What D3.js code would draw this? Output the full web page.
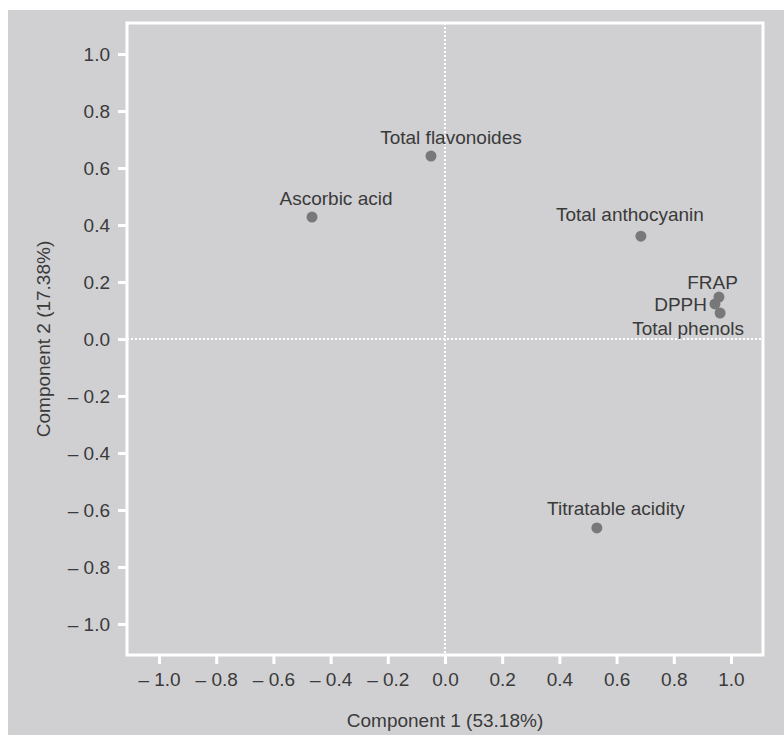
<!DOCTYPE html>
<html>
<head>
<meta charset="utf-8">
<script src="https://cdn.jsdelivr.net/npm/d3@7"></script>
<style>
  body { margin: 0; background: #fff; }
  svg { display: block; font-family: "Liberation Sans", Arial, sans-serif; }
</style>
</head>
<body>
<div id="canvas"></div>
<script>
const variables = ["Total flavonoides", "Ascorbic acid", "Total anthocyanin", "FRAP", "DPPH", "Total phenols", "Titratable acidity"];
const comp1 = [-0.049, -0.465, 0.685, 0.958, 0.944, 0.962, 0.531];
const comp2 = [0.642, 0.428, 0.361, 0.147, 0.123, 0.091, -0.663];
const tickValues = [-1.0, -0.8, -0.6, -0.4, -0.2, 0.0, 0.2, 0.4, 0.6, 0.8, 1.0];
// label placement relative to each point: [dx, dy, anchor]
const labelOffsets = [[20, -12, "middle"], [24, -12, "middle"], [-11, -15, "middle"], [19, -8, "end"], [-8, 7, "end"], [24, 22, "end"], [19, -13, "middle"]];

const width = 784;
const height = 735;
const margin = { top: 23, left: 127, bottom: 80, right: 21 };
const iwidth = width - margin.left - margin.right;
const iheight = height - margin.top - margin.bottom;

const svg = d3.select("#canvas").append("svg")
  .attr("width", width)
  .attr("height", height);

svg.append("rect")
  .attr("x", 8).attr("y", 10)
  .attr("width", width - 8).attr("height", height - 10)
  .attr("fill", "#d0d0d2");

const g = svg.append("g").attr("transform", `translate(${margin.left},${margin.top})`);

const x = d3.scaleLinear().domain([-1.112, 1.112]).range([0, iwidth]);
const y = d3.scaleLinear().domain([-1.109, 1.109]).range([iheight, 0]);

const fmt = (d) => (d < 0 ? "\u2013 " + d3.format(".1f")(-d) : d3.format(".1f")(d));

const xAxis = g.append("g")
  .attr("transform", `translate(0,${iheight})`)
  .call(d3.axisBottom(x).tickValues(tickValues).tickFormat(fmt).tickSize(9).tickPadding(9));
const yAxis = g.append("g")
  .call(d3.axisLeft(y).tickValues(tickValues).tickFormat(fmt).tickSize(9).tickPadding(8));

[xAxis, yAxis].forEach((a) => {
  a.select(".domain").remove();
  a.selectAll(".tick line").attr("stroke", "#fff").attr("stroke-width", 3);
  a.selectAll(".tick text").attr("fill", "#3a3a3a").style("font-size", "19px");
});

g.append("rect")
  .attr("width", iwidth).attr("height", iheight)
  .attr("fill", "none").attr("stroke", "#fff").attr("stroke-width", 3);

// dotted zero lines
g.append("line")
  .attr("x1", x(0)).attr("x2", x(0)).attr("y1", 0).attr("y2", iheight)
  .attr("stroke", "#fff").attr("stroke-width", 2).attr("stroke-dasharray", "2,2");
g.append("line")
  .attr("x1", 0).attr("x2", iwidth).attr("y1", y(0)).attr("y2", y(0))
  .attr("stroke", "#fff").attr("stroke-width", 2).attr("stroke-dasharray", "2,2");

const data = variables.map((name, i) => ({ name, c1: comp1[i], c2: comp2[i], off: labelOffsets[i] }));

g.selectAll("circle").data(data).enter().append("circle")
  .attr("cx", (d) => x(d.c1))
  .attr("cy", (d) => y(d.c2))
  .attr("r", 5.5)
  .attr("fill", "#787878");

g.selectAll("text.lbl").data(data).enter().append("text")
  .attr("class", "lbl")
  .attr("x", (d) => x(d.c1) + d.off[0])
  .attr("y", (d) => y(d.c2) + d.off[1])
  .attr("text-anchor", (d) => d.off[2])
  .attr("fill", "#3a3a3a")
  .style("font-size", "19px")
  .text((d) => d.name);

svg.append("text")
  .attr("x", margin.left + x(0))
  .attr("y", 727)
  .attr("text-anchor", "middle")
  .attr("fill", "#3a3a3a")
  .style("font-size", "19px")
  .text("Component 1 (53.18%)");

svg.append("text")
  .attr("transform", `translate(50,${margin.top + y(0)}) rotate(-90)`)
  .attr("text-anchor", "middle")
  .attr("fill", "#3a3a3a")
  .style("font-size", "19px")
  .text("Component 2 (17.38%)");
</script>
</body>
</html>
